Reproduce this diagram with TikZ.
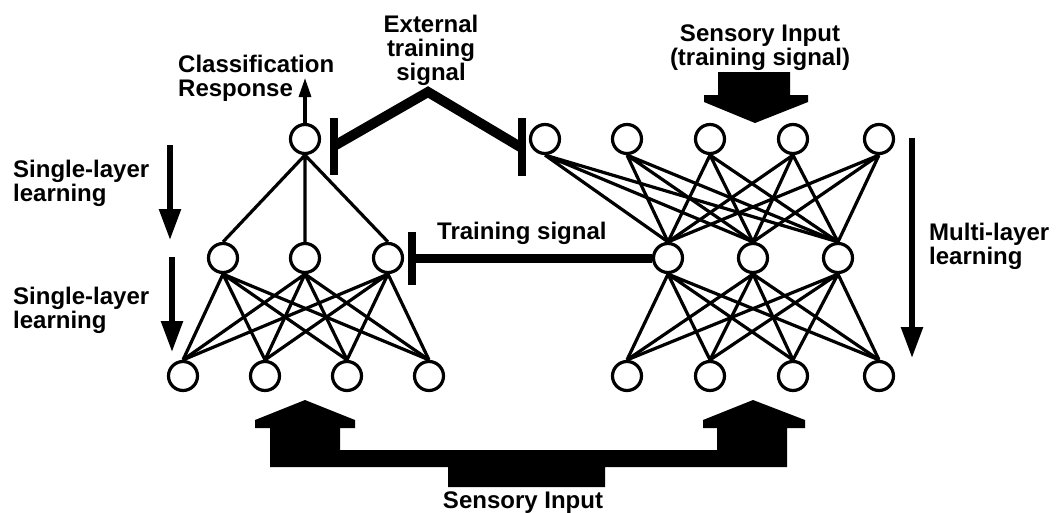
\documentclass[tikz,border=0pt]{standalone}
\usepackage{fontspec}
\setmainfont{Liberation Sans}
\usetikzlibrary{arrows.meta}
\usetikzlibrary{positioning}

\begin{document}
\begin{tikzpicture}[x=1pt,y=1pt,
  unit/.style={circle,draw=black,line width=3.2pt,fill=white,minimum size=29pt,inner sep=0pt},
  link/.style={line width=3.2pt},
  lbl/.style={font=\fontsize{24}{24}\selectfont\bfseries,inner sep=0pt,align=left},
  learn/.style={line width=5.5pt,-{Triangle[length=31pt,width=21pt]}},
  sig/.style={line width=10pt,line join=miter},
  tbar/.style={line width=8pt}]
\useasboundingbox (0,0) rectangle (1058,-512);

% left network
\node[unit] (out) at (305,-139) {};
\node[unit] (lh1) at (223,-258) {};
\node[unit] (lh2) at (305,-258) {};
\node[unit] (lh3) at (388,-258) {};
\node[unit] (li1) at (183,-376) {};
\node[unit] (li2) at (265,-376) {};
\node[unit] (li3) at (347,-376) {};
\node[unit] (li4) at (429,-376) {};

% right network
\node[unit] (rt1) at (545,-139) {};
\node[unit] (rt2) at (627,-139) {};
\node[unit] (rt3) at (710,-139) {};
\node[unit] (rt4) at (793,-139) {};
\node[unit] (rt5) at (879,-139) {};
\node[unit] (rh1) at (668,-258) {};
\node[unit] (rh2) at (753,-258) {};
\node[unit] (rh3) at (838,-258) {};
\node[unit] (rb1) at (627,-376) {};
\node[unit] (rb2) at (710,-376) {};
\node[unit] (rb3) at (793,-376) {};
\node[unit] (rb4) at (879,-376) {};

\draw[link] (out.south) -- (lh1.north) (out.south) -- (lh2.north) (out.south) -- (lh3.north);
\draw[link] (lh1.south) -- (li1.north) (lh1.south) -- (li2.north) (lh1.south) -- (li3.north) (lh1.south) -- (li4.north);
\draw[link] (lh2.south) -- (li1.north) (lh2.south) -- (li2.north) (lh2.south) -- (li3.north) (lh2.south) -- (li4.north);
\draw[link] (lh3.south) -- (li1.north) (lh3.south) -- (li2.north) (lh3.south) -- (li3.north) (lh3.south) -- (li4.north);

\draw[link] (rt1.south) -- (rh1.north) (rt1.south) -- (rh2.north) (rt1.south) -- (rh3.north);
\draw[link] (rt2.south) -- (rh1.north) (rt2.south) -- (rh2.north) (rt2.south) -- (rh3.north);
\draw[link] (rt3.south) -- (rh1.north) (rt3.south) -- (rh2.north) (rt3.south) -- (rh3.north);
\draw[link] (rt4.south) -- (rh1.north) (rt4.south) -- (rh2.north) (rt4.south) -- (rh3.north);
\draw[link] (rt5.south) -- (rh1.north) (rt5.south) -- (rh2.north) (rt5.south) -- (rh3.north);
\draw[link] (rh1.south) -- (rb1.north) (rh1.south) -- (rb2.north) (rh1.south) -- (rb3.north) (rh1.south) -- (rb4.north);
\draw[link] (rh2.south) -- (rb1.north) (rh2.south) -- (rb2.north) (rh2.south) -- (rb3.north) (rh2.south) -- (rb4.north);
\draw[link] (rh3.south) -- (rb1.north) (rh3.south) -- (rb2.north) (rh3.south) -- (rb3.north) (rh3.south) -- (rb4.north);

% response
\coordinate (resp) at (305,-78);
\draw[line width=3.2pt,-{Triangle[length=19pt,width=12pt]}] (out.north) -- (resp);
\node[lbl,anchor=north west] (clsresp) at (178,-55) {Classification\\Response};

% learning arrows
\node[lbl,anchor=north west] (sl1) at (13,-160) {Single-layer\\learning};
\node[lbl,anchor=north west] (sl2) at (13,-287) {Single-layer\\learning};
\node[lbl,anchor=north west] (ml) at (929,-223) {Multi-layer\\learning};
\draw[learn] (170,-145) -- (170,-240);
\draw[learn] (172,-257) -- (172,-352);
\draw[learn] (912,-138) -- (912,-358);

% external training signal
\node[lbl,align=center,anchor=north] (ext) at (431,-15) {External\\training\\signal};
\coordinate (extL) at (334,-146);
\coordinate (extTop) at (428,-92);
\coordinate (extR) at (522,-148);
\draw[sig] (extL) -- (extTop) -- (extR);
\draw[tbar] ([yshift=28pt]extL) -- ([yshift=-29pt]extL);
\draw[tbar] ([yshift=30pt]extR) -- ([yshift=-28pt]extR);

% training signal
\node[lbl,anchor=north west] (trn) at (437,-222) {Training signal};
\coordinate (trnL) at ([xshift=24pt]lh3.center);
\draw[line width=9pt] (rh1.west) -- (trnL);
\draw[tbar] ([yshift=26pt]trnL) -- ([yshift=-27pt]trnL);

% sensory input, top
\node[lbl,align=center,anchor=north] (sens) at (760,-25) {Sensory Input\\(training signal)};
\fill (718,-72) -- (790,-72) -- (790,-95) -- (808,-95) -- (808,-102) -- (755,-123) -- (704,-102) -- (704,-95) -- (718,-95) -- cycle;

% sensory input, bottom
\fill (270,-467) -- (270,-428) -- (255,-428) -- (255,-420) -- (305,-400) -- (355,-420) -- (355,-428) -- (340,-428) -- (340,-450)
  -- (717,-450) -- (717,-428) -- (703,-428) -- (703,-420) -- (753,-400) -- (805,-420) -- (805,-428) -- (787,-428) -- (787,-467)
  -- (605,-467) -- (605,-487) -- (448,-487) -- (448,-467) -- cycle;
\coordinate (inbase) at (523,-487);
\node[lbl,align=center,below=5pt of inbase] (sensin) {Sensory Input};

\end{tikzpicture}
\end{document}
